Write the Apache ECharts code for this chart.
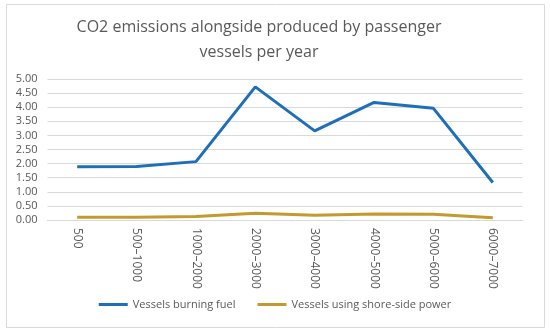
<!DOCTYPE html>
<html><head><meta charset="utf-8">
<script src="https://cdn.jsdelivr.net/npm/echarts@6/dist/echarts.min.js"></script>
<style>html,body{margin:0;padding:0;background:#fff}#c{width:550px;height:333px}</style>
</head><body><div id="c"></div>
<script>
const categories = ['500','500–1000','1000–2000','2000–3000','3000–4000','4000–5000','5000–6000','6000–7000'];
const fuel = [1.89, 1.90, 2.07, 4.72, 3.16, 4.17, 3.96, 1.33];
const shore = [0.10, 0.10, 0.12, 0.24, 0.17, 0.21, 0.20, 0.08];
const chart = echarts.init(document.getElementById('c'));
const font = '"Open Sans", "Liberation Sans", sans-serif';
chart.setOption({
  animation: false,
  graphic: [
    {type: 'rect', shape: {x: 6.5, y: 4.5, width: 538, height: 323}, style: {fill: 'none', stroke: '#d9d9d9', lineWidth: 1}, silent: true},
    {type: 'text', x: 259, y: 15, style: {text: 'CO2 emissions alongside produced by passenger\nvessels per year', textAlign: 'center', fontFamily: font, fontSize: 16, fill: '#595959', lineHeight: 25}, silent: true}
  ],
  legend: {
    bottom: 18, left: 'center', itemWidth: 29, itemHeight: 3, itemGap: 22,
    icon: 'rect',
    textStyle: {fontFamily: font, fontSize: 11, color: '#595959'},
    data: ['Vessels burning fuel', 'Vessels using shore-side power']
  },
  grid: {left: 47.5, right: 27.5, top: 79, bottom: 113, containLabel: false},
  xAxis: {
    type: 'category', data: categories, boundaryGap: true,
    axisLine: {show: true, lineStyle: {color: '#d9d9d9'}},
    axisTick: {show: false},
    axisLabel: {rotate: -90, fontFamily: font, fontSize: 12, color: '#595959', margin: 8, interval: 0}
  },
  yAxis: {
    type: 'value', min: 0, max: 5, interval: 0.5,
    axisLabel: {formatter: v => v.toFixed(2), fontFamily: font, fontSize: 11, color: '#595959', margin: 10},
    splitLine: {lineStyle: {color: '#d9d9d9'}},
    axisLine: {show: false}, axisTick: {show: false}
  },
  series: [
    {name: 'Vessels burning fuel', type: 'line', data: fuel, symbol: 'none', lineStyle: {width: 3, color: '#1f6fb8'}, itemStyle: {color: '#1f6fb8'}},
    {name: 'Vessels using shore-side power', type: 'line', data: shore, symbol: 'none', lineStyle: {width: 3, color: '#c49a2e'}, itemStyle: {color: '#c49a2e'}}
  ]
});
</script></body></html>
